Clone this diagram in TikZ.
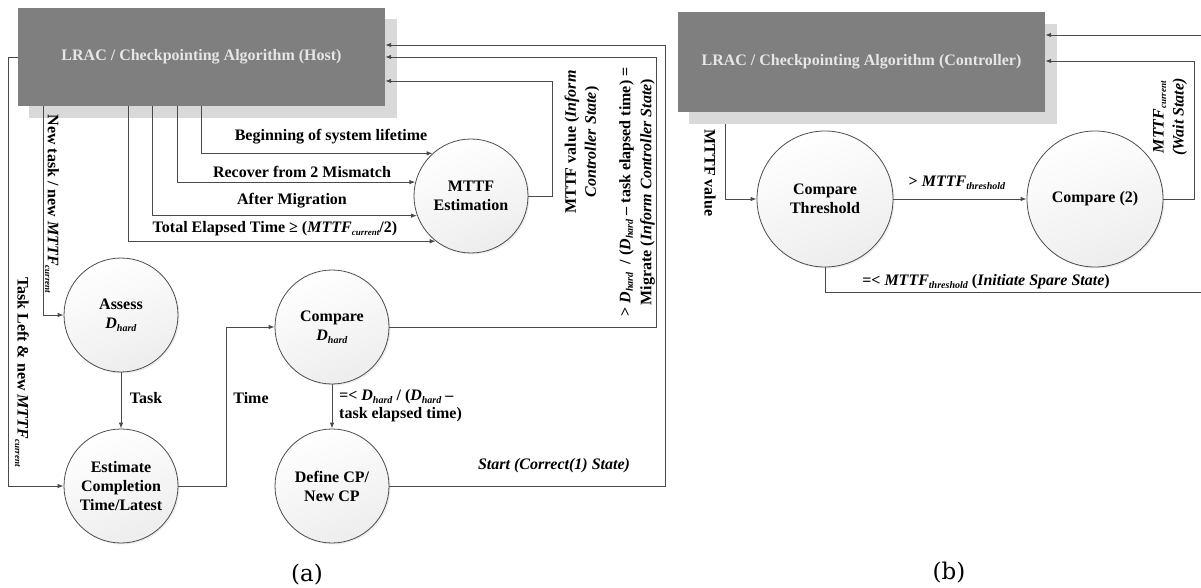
\documentclass[tikz,border=0pt]{standalone}
\usepackage{fontspec}
\setmainfont{Liberation Serif}
\newfontfamily\capfont{DejaVu Serif}
\usetikzlibrary{arrows.meta,shadows}
\definecolor{boxgray}{HTML}{7F7F7F}
\definecolor{shadowgray}{HTML}{D9D9D9}
\definecolor{boxtext}{HTML}{E6E6E6}
\definecolor{linec}{HTML}{4A4A4A}
\newcommand{\Dh}{\textit{D}\raisebox{-0.35ex}{\fontsize{10}{10}\selectfont\textit{hard}}}
\newcommand{\Mc}{\textit{MTTF}\raisebox{-0.35ex}{\fontsize{9}{9}\selectfont\textit{current}}}
\newcommand{\Mt}{\textit{MTTF}\raisebox{-0.35ex}{\fontsize{10}{10}\selectfont\textit{threshold}}}
\begin{document}
\begin{tikzpicture}[x=1pt,y=-1pt,
  every node/.style={font=\fontsize{16}{19}\selectfont\bfseries, text=black, inner sep=0pt},
  state/.style={circle, draw=black!70, line width=0.8pt, minimum size=114pt,
    top color=white, bottom color=black!7, shading angle=20, align=center,
    drop shadow={opacity=0.15,shadow xshift=1.5pt,shadow yshift=-1.5pt}},
  bigstate/.style={state, minimum size=136pt},
  algbox/.style={rectangle, fill=boxgray, minimum width=367pt, text=boxtext},
  arr/.style={draw=linec, line width=0.9pt, -{Latex[length=6pt,width=4.5pt]}},
  ln/.style={draw=linec, line width=0.9pt},
  caption/.style={font={\capfont\fontsize{23}{24}\selectfont}},
]
\useasboundingbox (0,0) rectangle (1201,588);

% ---------- boxes ----------
\fill[shadowgray] (29,19) rectangle (397,118);
\node[algbox, minimum height=98pt] (host) at (201.5,57) {LRAC / Checkpointing Algorithm (Host)};
\fill[shadowgray] (689,24) rectangle (1057,124);
\node[algbox, minimum height=100pt] (ctrl) at (861.5,62) {LRAC / Checkpointing Algorithm (Controller)};

% ---------- states (a) ----------
\node[state] (mttf) at (471,196) {MTTF\\Estimation};
\node[state] (assess) at (121,315) {Assess\\\Dh};
\node[state] (est) at (121,486) {Estimate\\Completion\\Time/Latest};
\node[state] (cmpd) at (332,327) {Compare\\\Dh};
\node[state] (defcp) at (332,486) {Define CP/\\New CP};

% ---------- states (b) ----------
\node[bigstate] (cth) at (825,199) {Compare\\Threshold};
\node[bigstate] (cmp2) at (1095,199) {Compare (2)};

% ---------- coordinates ----------
\coordinate (ra) at (665,45);
\coordinate (rb) at (656,57);
\coordinate (rc) at (552,81);
\coordinate (la) at (8,57);
\coordinate (lb) at (43,0);
\coordinate (t1) at (201,0);
\coordinate (t2) at (177,0);
\coordinate (t3) at (152,0);
\coordinate (t4) at (128,0);
\coordinate (tm) at (226,0);
\coordinate (mv) at (725,124);
\coordinate (rw) at (1194,61);
\coordinate (re1) at (1201,35);
\coordinate (re2) at (1201,292);

% ---------- connectors (a) ----------
\draw[arr] (defcp.east) -| (ra) -- (host.east |- ra);
\draw[arr] (cmpd.east) -| (rb) -- (host.east |- rb);
\draw[arr] (mttf.east) -| (rc) -- (host.east |- rc);
\draw[arr] (host.west |- la) -- (la) |- (est.west);
\draw[arr] (host.south -| lb) |- (assess.west);
\draw[arr] (host.south -| t1) |- (mttf.132.5);
\draw[arr] (host.south -| t2) |- (mttf.166.8);
\draw[arr] (host.south -| t3) |- (mttf.200.5);
\draw[arr] (host.south -| t4) |- (mttf.232.1);
\draw[arr] (assess.south) -- (est.north);
\draw[arr] (est.east) -- (est.east -| tm) |- (cmpd.west);
\draw[arr] (cmpd.south) -- (defcp.north);

% ---------- connectors (b) ----------
\draw[arr] (mv) |- (cth.west);
\draw[arr] (cth.east) -- (cmp2.west);
\draw[arr] (cmp2.east) -| (rw) -- (ctrl.east |- rw);
\draw[arr] (re1) -- (ctrl.east |- re1);
\draw[ln] (cth.south) |- (re2);

% ---------- labels (a) ----------
\node (lb1) at (331,137) {Beginning of system lifetime};
\node (lb2) at (302,172) {Recover from 2 Mismatch};
\node (lb3) at (292,201) {After Migration};
\node (lb4) at (275,229) {Total Elapsed Time ≥ (\Mc/2)};
\node[rotate=90, align=center, font=\fontsize{16}{20}\selectfont\bfseries] (lb5) at (582,142) {MTTF value (\textit{Inform}\\\textit{Controller State})};
\node[rotate=90, align=center, font=\fontsize{16}{21}\selectfont\bfseries] (lb6) at (637,192) {> \Dh\ \ / (\Dh\ – task elapsed time) =\\Migrate (\textit{Inform Controller State})};
\node[rotate=-90] (lb7) at (52,204) {New task / new \Mc};
\node[rotate=-90] (lb8) at (22,372) {Task Left \& new \Mc};
\node (lb9) at (146,398) {Task};
\node (lb10) at (251,398) {Time};
\node[anchor=west, align=left, font=\fontsize{16}{18}\selectfont\bfseries] (lb11) at (339,406) {\textit{=<} \Dh\ / (\Dh\ –\\task elapsed time)};
\node (lb12) at (554,466) {\textit{Start (Correct(1) State)}};
\node[caption] (capa) at (307,575) {(a)};

% ---------- labels (b) ----------
\node[rotate=-90] (lb13) at (710,173) {MTTF value};
\node (lb14) at (957,183) {> \Mt};
\node (lb15) at (986,282) {=< \Mt\ (\textit{Initiate Spare State})};
\node[rotate=90, align=center, font=\fontsize{16}{20}\selectfont\bfseries] (lb16) at (1170,117) {\Mc\\\textit{(Wait State)}};
\node[caption] (capb) at (949,573) {(b)};
\end{tikzpicture}
\end{document}
